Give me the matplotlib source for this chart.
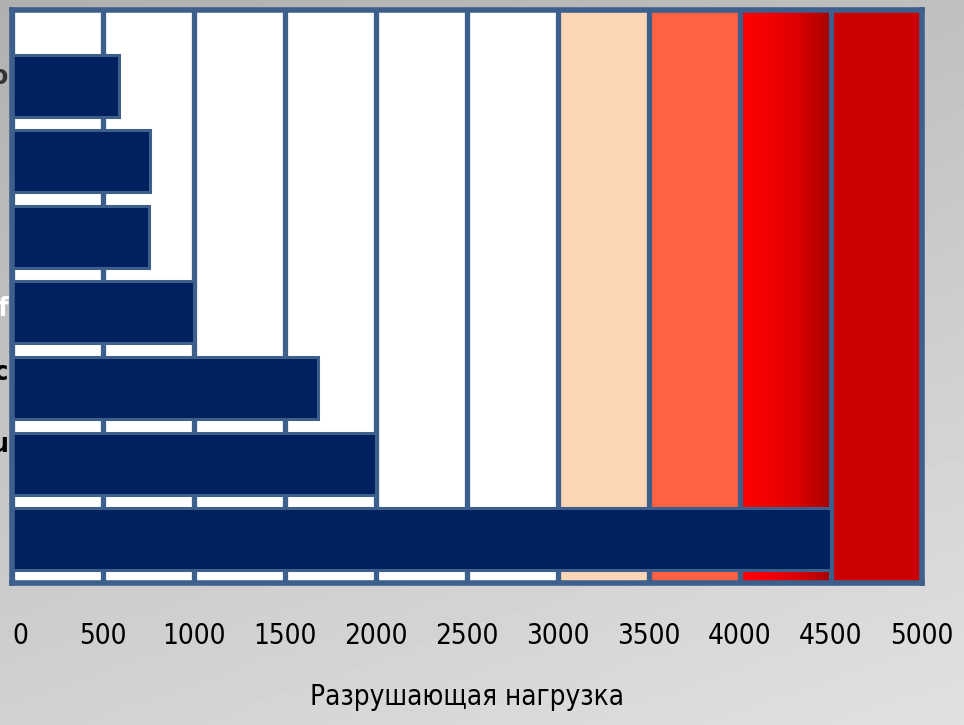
import numpy as np
import matplotlib.pyplot as plt
from matplotlib.colors import LinearSegmentedColormap

# values (top bar first)
categories = ['1', '2', '3', '4', '5', '6', '7']
loads = [590, 760, 750, 1000, 1680, 2000, 4500]
ticks = [0, 500, 1000, 1500, 2000, 2500, 3000, 3500, 4000, 4500, 5000]
tick_labels = [str(t) for t in ticks]
xlabel = 'Разрушающая нагрузка'

# cut-off category label fragments visible at the left edge
frag_text = ['о', 'оf', 'l с', 'u']
frag_row = [-0.12, 2.95, 3.8, 4.75]
frag_color = ['#333333', 'white', 'black', 'black']

# background bands
band_edges = [0, 3000, 3500, 4000, 4500, 5000]
band_colors = ['white', '#FCD5B5', '#FF6242', None, '#CC0000']

EDGE = '#3D5F8C'
plt.rcParams['font.family'] = ['DejaVu Sans']
plt.rcParams['font.stretch'] = 'condensed'

fig = plt.figure(figsize=(9.64, 7.25), dpi=100)

# grey gradient page background
bg = fig.add_axes([0, 0, 1, 1], zorder=-10)
yy, xx = np.mgrid[0:1:200j, 0:1:200j]
shade = 0.69 + 0.13 * yy + 0.06 * xx
bg.imshow(shade, cmap='gray', vmin=0, vmax=1, aspect='auto', origin='upper',
          extent=[0, 1, 0, 1])
bg.axis('off')

ax = fig.add_axes([12 / 964, 1 - 583 / 725, 910 / 964, 573 / 725])
ax.set_xlim(0, 5000)
ax.set_ylim(6.58, -1.0)

for (x0, x1), c in zip(zip(band_edges[:-1], band_edges[1:]), band_colors):
    if c is None:
        grad = np.linspace(0, 1, 100)[None, :]
        cm = LinearSegmentedColormap.from_list('r', ['#FF0000', '#F20000', '#D80000', '#A80000'])
        ax.imshow(grad, cmap=cm, aspect='auto', extent=[x0, x1, 6.58, -1.0], zorder=0)
    else:
        ax.axvspan(x0, x1, color=c, zorder=0, lw=0)

for t in ticks:
    ax.axvline(t, color=EDGE, lw=3.8, zorder=1)

y = np.arange(len(categories))
ax.barh(y, loads, height=0.82, color='#002060', edgecolor=EDGE, linewidth=2.2, zorder=2)

for s in ax.spines.values():
    s.set_color(EDGE)
    s.set_linewidth(4)
    s.set_zorder(3)

ax.set_yticks([])
ax.set_xticks(ticks)
ax.set_xticklabels(tick_labels, fontsize=20)
ax.tick_params(axis='x', length=0, pad=28)
labs = ax.get_xticklabels()
labs[0].set_horizontalalignment('left')
ax.set_xlabel(xlabel, fontsize=20, labelpad=24)

for txt, r, c in zip(frag_text, frag_row, frag_color):
    ax.text(-20, r, txt, ha='right', va='center', fontsize=19, color=c,
            fontweight='bold', clip_on=False, zorder=4)

fig.savefig('out.png', dpi=100)
